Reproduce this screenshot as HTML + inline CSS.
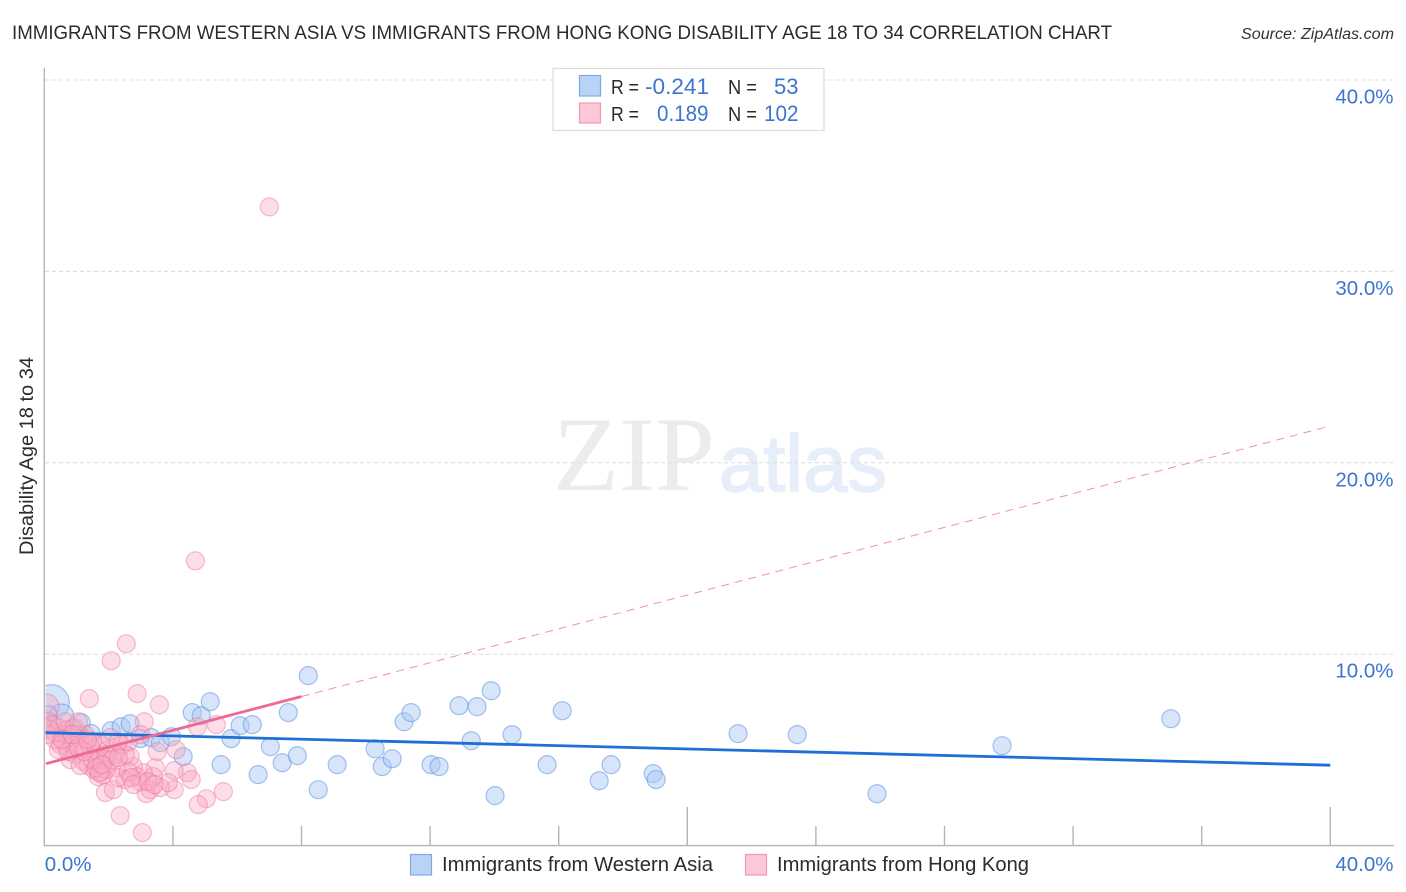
<!DOCTYPE html>
<html lang="en">
<head>
<meta charset="utf-8">
<title>Correlation Chart</title>
<style>
html,body{margin:0;padding:0;background:#fff;}
svg{display:block;font-family:"Liberation Sans",sans-serif;}
</style>
</head>
<body>
<svg id="chart" xmlns="http://www.w3.org/2000/svg" width="1406" height="892" viewBox="0 0 1406 892">
  <defs>
    <clipPath id="plot-clip"><rect x="45.5" y="60" width="1350" height="785"/></clipPath>
  </defs>
  <rect x="0" y="0" width="1406" height="892" fill="#ffffff"/>
  <text x="12" y="39" font-size="19" fill="#2b2b2b" textLength="1100" lengthAdjust="spacingAndGlyphs">IMMIGRANTS FROM WESTERN ASIA VS IMMIGRANTS FROM HONG KONG DISABILITY AGE 18 TO 34 CORRELATION CHART</text>
  <text x="1241" y="39" font-size="15.5" font-style="italic" fill="#333333" textLength="153" lengthAdjust="spacingAndGlyphs">Source: ZipAtlas.com</text>

  <g>
    <text x="553" y="490" font-family="'Liberation Serif',serif" font-size="106" fill="#ececec" textLength="162" lengthAdjust="spacingAndGlyphs">ZIP</text>
    <text x="719" y="491" font-size="80" fill="#e6eefa" stroke="#e6eefa" stroke-width="1.6" textLength="168" lengthAdjust="spacingAndGlyphs">atlas</text>
  </g>

  <g id="grid"></g>
  <g id="axes"></g>
  <g id="marks-blue" clip-path="url(#plot-clip)"></g>
  <g id="marks-pink" clip-path="url(#plot-clip)"></g>
  <g id="trends" clip-path="url(#plot-clip)"></g>
  <g id="labels"></g>

  <text transform="translate(33,456) rotate(-90)" text-anchor="middle" font-size="19" fill="#2b2b2b" textLength="198" lengthAdjust="spacingAndGlyphs">Disability Age 18 to 34</text>

  <g>
    <rect x="553" y="68.5" width="271" height="62" fill="#ffffff" stroke="#dddddd" stroke-width="1.2"/>
    <rect x="579.5" y="75.5" width="21" height="20.5" fill="#b9d3f6" stroke="#7fa9e6" stroke-width="1.2"/>
    <rect x="579.5" y="103" width="21" height="20" fill="#fcc7d8" stroke="#ef9ab5" stroke-width="1.2"/>
    <text x="611" y="94" font-size="20.5" fill="#2b2b2b" textLength="28" lengthAdjust="spacingAndGlyphs">R =</text>
    <text x="645" y="94" font-size="22" fill="#3b74d1" textLength="64" lengthAdjust="spacingAndGlyphs">-0.241</text>
    <text x="728" y="94" font-size="20.5" fill="#2b2b2b" textLength="29" lengthAdjust="spacingAndGlyphs">N =</text>
    <text x="774" y="94" font-size="22" fill="#3b74d1" textLength="24.5" lengthAdjust="spacingAndGlyphs">53</text>
    <text x="611" y="121" font-size="20.5" fill="#2b2b2b" textLength="28" lengthAdjust="spacingAndGlyphs">R =</text>
    <text x="657" y="121" font-size="22" fill="#3b74d1" textLength="51.5" lengthAdjust="spacingAndGlyphs">0.189</text>
    <text x="728" y="121" font-size="20.5" fill="#2b2b2b" textLength="29" lengthAdjust="spacingAndGlyphs">N =</text>
    <text x="764" y="121" font-size="22" fill="#3b74d1" textLength="34.5" lengthAdjust="spacingAndGlyphs">102</text>
  </g>

  <g>
    <rect x="410.5" y="854.5" width="21" height="20.5" fill="#b9d3f6" stroke="#7fa9e6" stroke-width="1.2"/>
    <text x="442" y="871" font-size="20" fill="#2b2b2b" textLength="271" lengthAdjust="spacingAndGlyphs">Immigrants from Western Asia</text>
    <rect x="745.5" y="854.5" width="21" height="20.5" fill="#fcc7d8" stroke="#ef9ab5" stroke-width="1.2"/>
    <text x="777" y="871" font-size="20" fill="#2b2b2b" textLength="252" lengthAdjust="spacingAndGlyphs">Immigrants from Hong Kong</text>
  </g>
</svg>
<script>
var yTickValues = [10, 20, 30, 40];
var yTickLabels = ["10.0%", "20.0%", "30.0%", "40.0%"];
var xTickValues = [4, 8, 12, 16, 20, 24, 28, 32, 36, 40];
var xMajorTicks = [20, 40];
var xEndValues = [0, 40];
var xEndLabels = ["0.0%", "40.0%"];

var westernAsiaX = [0.22,0.53,1.15,0.87,1.46,2.08,2.39,2.67,2.99,3.33,3.61,3.95,4.32,4.60,4.88,5.16,5.50,5.81,6.09,6.47,6.65,7.03,7.40,7.59,7.87,8.21,8.52,9.11,10.29,10.51,10.82,11.19,11.41,12.03,12.28,12.90,13.46,13.28,13.90,14.02,14.55,15.64,16.11,17.26,17.63,18.94,19.03,21.58,23.42,25.90,29.79,35.04,0.12];
var westernAsiaY = [7.47,6.73,6.42,6.11,5.85,6.00,6.21,6.37,5.59,5.64,5.38,5.69,4.65,6.95,6.79,7.52,4.23,5.59,6.27,6.32,3.71,5.17,4.33,6.95,4.70,8.88,2.92,4.23,5.06,4.13,4.54,6.47,6.95,4.23,4.13,7.31,7.26,5.48,8.09,2.61,5.80,4.23,7.05,3.39,4.23,3.76,3.45,5.85,5.80,2.71,5.22,6.63,6.84];
var westernAsiaWeight = [4,2,1,1,1,1,1,1,1,1,1,1,1,1,1,1,1,1,1,1,1,1,1,1,1,1,1,1,1,1,1,1,1,1,1,1,1,1,1,1,1,1,1,1,1,1,1,1,1,1,1,1,1];

var hongKongX = [7.00,4.70,2.55,2.08,1.40,2.89,3.58,3.11,4.76,5.35,4.10,3.51,4.45,4.57,4.04,4.04,3.45,5.57,5.04,4.79,2.36,3.05,1.90,2.15,3.17,3.30,3.61,3.86,3.39,3.08,2.77,2.67,2.89,2.52,2.24,1.68,0.06,0.12,0.19,0.31,0.44,0.56,0.68,0.81,0.50,0.68,0.87,1.06,1.12,0.96,0.81,1.24,1.43,1.62,1.74,1.99,2.05,2.43,2.52,2.21,1.74,1.37,1.55,1.12,1.90,1.65,1.74,1.43,0.34,0.09,0.25,1.27,0.93,0.65,0.44,1.49,1.83,1.62,1.93,2.30,2.61,2.99,2.70,2.77,3.23,3.42,2.61,2.99,1.06,2.30,1.49,0.75,1.24,1.93,2.11,1.71,1.80,2.30,1.06,1.34,0.56,0.87];
var hongKongY = [33.37,14.88,10.55,9.66,7.68,7.94,7.36,6.47,6.21,6.32,5.01,4.91,3.81,3.45,3.92,2.92,4.07,2.82,2.45,2.14,1.57,0.68,2.77,2.92,2.72,2.92,3.03,3.29,3.60,3.81,4.13,4.65,3.60,3.45,4.07,3.60,7.26,6.47,6.06,5.90,6.16,5.80,6.06,5.64,5.27,5.17,5.27,5.80,5.27,4.75,4.49,4.39,5.12,4.75,5.27,5.01,5.64,5.27,4.75,4.75,4.23,4.18,3.97,4.18,4.49,4.49,3.86,5.27,5.54,5.80,6.32,5.80,6.16,6.47,5.01,4.49,3.71,4.07,3.97,3.55,3.86,3.34,3.55,3.19,3.34,3.19,5.43,5.80,6.47,5.43,5.43,4.91,4.91,4.75,4.49,3.81,4.23,4.60,5.12,5.54,5.54,5.80];
var hongKongWeight = [1,1,1,1,1,1,1,1,1,1,1,1,1,1,1,1,1,1,1,1,1,1,1,1,1,1,1,1,1,1,1,1,1,1,1,1,2,1,1,1,1,1,1,1,1,1,1,1,1,1,1,1,1,1,1,1,1,1,1,1,1,1,1,1,1,1,1,1,1,1,1,1,1,1,1,1,1,1,1,1,1,1,1,1,1,1,1,1,1,1,1,1,1,1,1,1,1,1,1,1,1,1];

var westernAsiaTrendX = [0, 40];
var westernAsiaTrendY = [5.90, 4.20];
var hongKongTrendSolidX = [0.05, 8.0];
var hongKongTrendSolidY = [4.28, 7.79];
var hongKongTrendDashX = [8.0, 39.9];
var hongKongTrendDashY = [7.79, 21.88];

var NS = "http://www.w3.org/2000/svg";
function xScale(v) { return 44.3 + v * 32.15; }
function yScale(v) { return 845.6 - v * 19.14; }
function radius(w) { return 9 * Math.sqrt(w); }
function make(tag, parent, attrs) {
  var el = document.createElementNS(NS, tag);
  for (var k in attrs) { el.setAttribute(k, attrs[k]); }
  parent.appendChild(el);
  return el;
}

var gridG = document.getElementById("grid");
var axesG = document.getElementById("axes");
var labelsG = document.getElementById("labels");
var blueG = document.getElementById("marks-blue");
var pinkG = document.getElementById("marks-pink");
var trendG = document.getElementById("trends");

yTickValues.forEach(function (v, i) {
  var line = make("line", gridG, {x1: 45, x2: 1394, y1: yScale(v), y2: yScale(v), stroke: "#dcdcdc", "stroke-width": 1, "stroke-dasharray": "4 3"});
  
  
  var t = make("text", labelsG, {x: 1393.5, y: yScale(v) + 23.5, "text-anchor": "end", "font-size": 20.5, fill: "#3b74d1"});
  t.textContent = yTickLabels[i];
  
  
});

var yAxis = make("line", axesG, {x1: 44.3, x2: 44.3, y1: 68, y2: 846, stroke: "#b4b4b4", "stroke-width": 1.4});


var xAxis = make("line", axesG, {x1: 44, x2: 1394, y1: 845.6, y2: 845.6, stroke: "#b4b4b4", "stroke-width": 1.4});



xTickValues.forEach(function (v) {
  var top = xMajorTicks.indexOf(v) >= 0 ? 807 : 826;
  var tick = make("line", axesG, {x1: xScale(v), x2: xScale(v), y1: top, y2: 845.6, stroke: "#b4b4b4", "stroke-width": 1.4});
  
  
});

xEndValues.forEach(function (v, i) {
  var t = make("text", labelsG, {x: i === 0 ? xScale(v) + 0.5 : 1393.5, y: 871, "text-anchor": i === 0 ? "start" : "end", "font-size": 20.5, fill: "#3b74d1"});
  t.textContent = xEndLabels[i];
  
  
});

westernAsiaX.forEach(function (v, i) {
  var c = make("circle", blueG, {cx: xScale(v), cy: yScale(westernAsiaY[i]), r: radius(westernAsiaWeight[i]), fill: "#a9c8f2", "fill-opacity": 0.48, stroke: "#4f8ae0", "stroke-opacity": 0.5, "stroke-width": 1.2});
  
  
});

hongKongX.forEach(function (v, i) {
  var c = make("circle", pinkG, {cx: xScale(v), cy: yScale(hongKongY[i]), r: radius(hongKongWeight[i]), fill: "#f9a9c3", "fill-opacity": 0.4, stroke: "#e8709a", "stroke-opacity": 0.45, "stroke-width": 1.2});
  
  
});

var blueTrend = make("line", trendG, {x1: xScale(westernAsiaTrendX[0]), y1: yScale(westernAsiaTrendY[0]), x2: xScale(westernAsiaTrendX[1]), y2: yScale(westernAsiaTrendY[1]), stroke: "#1f6fd6", "stroke-width": 2.8});



var pinkTrend = make("line", trendG, {x1: xScale(hongKongTrendSolidX[0]), y1: yScale(hongKongTrendSolidY[0]), x2: xScale(hongKongTrendSolidX[1]), y2: yScale(hongKongTrendSolidY[1]), stroke: "#ec6a96", "stroke-width": 2.8});



var pinkDash = make("line", trendG, {x1: xScale(hongKongTrendDashX[0]), y1: yScale(hongKongTrendDashY[0]), x2: xScale(hongKongTrendDashX[1]), y2: yScale(hongKongTrendDashY[1]), stroke: "#ec6a96", "stroke-width": 1, "stroke-opacity": 0.75, "stroke-dasharray": "8 6"});


</script>
</body>
</html>
